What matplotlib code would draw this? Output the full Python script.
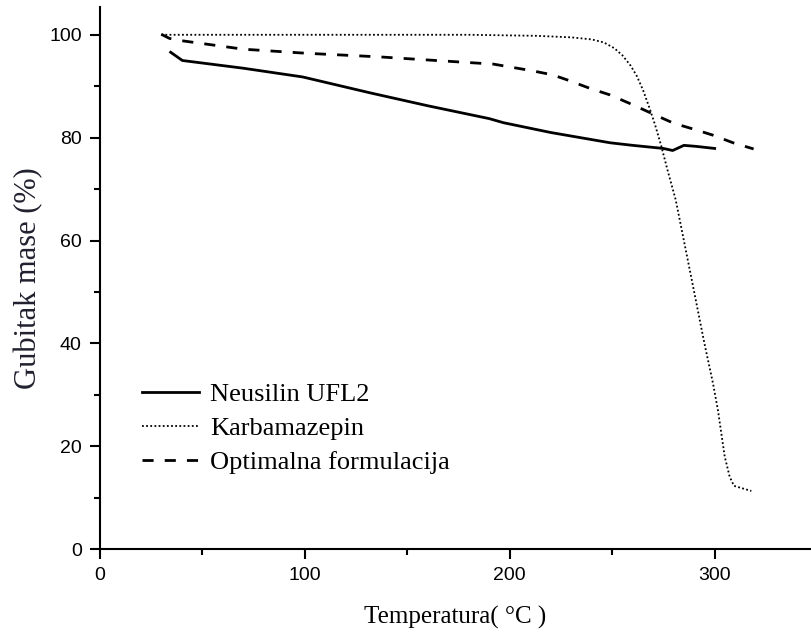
import numpy as np
import matplotlib.pyplot as plt
from matplotlib.ticker import MultipleLocator

# Neusilin UFL2 (puna linija)
t_neusilin = [34.6, 40.3, 70, 99, 132, 160, 190, 197, 220, 249, 260, 275, 279.5, 285, 291, 300]
m_neusilin = [96.6, 95.0, 93.5, 91.8, 88.7, 86.2, 83.7, 82.9, 81.0, 79.0, 78.5, 77.9, 77.5, 78.5, 78.3, 77.9]

# Karbamazepin (tačkasta linija)
t_karb = [30, 100, 180, 213, 230, 240, 246, 251, 255, 259, 262, 265, 268, 271, 274, 277, 281,
          289, 295, 299.2, 301.6, 304.9, 307.3, 309.4, 317.9]
m_karb = [100, 100, 100, 99.8, 99.5, 99.1, 98.5, 97.4, 96.0, 94.0, 92.0, 89.3, 86.0, 82.4, 78.3, 73.7, 67.9,
          52.0, 40.0, 32.2, 27.0, 18.0, 14.1, 12.3, 11.3]

# Optimalna formulacija (isprekidana linija)
t_opt = [30, 34, 39, 70, 101, 136.6, 164, 192, 211, 221, 229, 239, 249, 260, 271, 280, 291, 299, 309, 319]
m_opt = [100.1, 99.3, 98.9, 97.2, 96.4, 95.7, 95.0, 94.3, 93.0, 92.2, 91.1, 89.6, 88.3, 86.4, 84.4,
         82.8, 81.5, 80.5, 79.0, 77.8]

fig = plt.figure(figsize=(8.11, 6.37), dpi=100)
ax = fig.add_axes([0.123, 0.138, 0.877, 0.851])

ax.plot(t_neusilin, m_neusilin, color='black', lw=2.0, ls='-', label='Neusilin UFL2')
ax.plot(t_karb, m_karb, color='black', lw=1.3, ls=(0, (1, 1.3)), label='Karbamazepin')
ax.plot(t_opt, m_opt, color='black', lw=2.0, ls=(0, (4, 4)), label='Optimalna formulacija')

ax.set_xlim(0, 347)
ax.set_ylim(0, 105.4)
ax.xaxis.set_major_locator(MultipleLocator(100))
ax.xaxis.set_minor_locator(MultipleLocator(50))
ax.yaxis.set_major_locator(MultipleLocator(20))
ax.yaxis.set_minor_locator(MultipleLocator(10))

for s in ['top', 'right']:
    ax.spines[s].set_visible(False)
for s in ['left', 'bottom']:
    ax.spines[s].set_linewidth(1.5)

ax.tick_params(which='major', direction='out', length=7, width=1.5, labelsize=14, pad=6)
ax.tick_params(which='minor', direction='out', length=4, width=1.5)
for lab in ax.get_xticklabels() + ax.get_yticklabels():
    lab.set_family('Liberation Sans')

ax.set_xlabel('Temperatura( °C )', family='Liberation Serif', fontsize=18, labelpad=16)
ax.set_ylabel('Gubitak mase (%)', family='Liberation Serif', fontsize=22,
              color='#20202e', labelpad=4)

leg = ax.legend(loc='upper left', bbox_to_anchor=(0.06, 0.307), frameon=False,
                prop={'family': 'Liberation Serif', 'size': 19},
                handlelength=2.15, handletextpad=0.4, labelspacing=0.4,
                borderaxespad=0, borderpad=0)

fig.savefig('out.png', dpi=100)
